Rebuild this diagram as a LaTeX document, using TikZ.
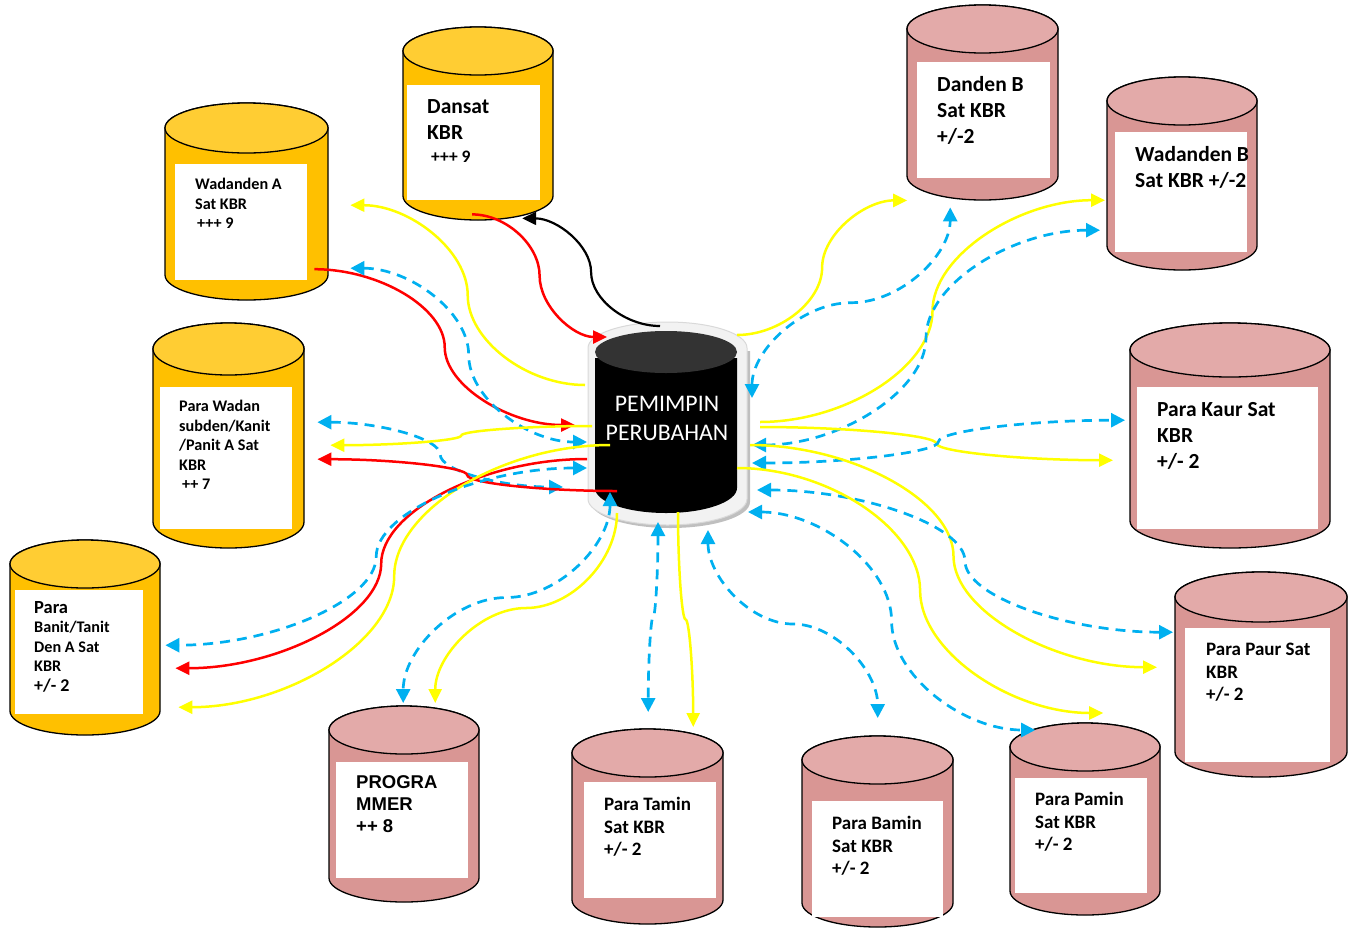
\documentclass[tikz,border=0pt]{standalone}
\usepackage{fontspec}
\setmainfont{Carlito}
\newfontfamily\arialfont{Liberation Sans}
\usetikzlibrary{positioning,arrows.meta,calc}

\definecolor{kuningbadan}{HTML}{FFC000}
\definecolor{kuningatas}{HTML}{FFCD33}
\definecolor{merahbadan}{HTML}{D99694}
\definecolor{merahatas}{HTML}{E3AAA9}
\definecolor{garisKuning}{HTML}{FFFF00}
\definecolor{garisMerah}{HTML}{FF0000}
\definecolor{garisBiru}{HTML}{00B0F0}

% cylinder: centre x, x radius, y radius, top y, bottom y, colour
\newcommand{\tabung}[6]{%
  \filldraw[tabungline, fill=#6badan] ({#1-#2},#4) -- ({#1-#2},#5)
    arc[start angle=180, end angle=360, x radius=#2pt, y radius=#3pt] -- ({#1+#2},#4)
    arc[start angle=0, end angle=180, x radius=#2pt, y radius=#3pt] -- cycle;
  \filldraw[tabungline, fill=#6atas] (#1,#4) ellipse[x radius=#2pt, y radius=#3pt];
}

\begin{document}
\begin{tikzpicture}[x=1pt, y=-1pt,
    tabungline/.style={draw=black, line width=1.3pt},
    kotak/.style={fill=white, inner sep=0pt, anchor=north west},
    teks/.style={align=left, inner sep=0pt, font=\bfseries},
    besar/.style={teks, font=\fontsize{21.5}{26}\selectfont\bfseries},
    sedang/.style={teks, font=\fontsize{19}{22.5}\selectfont\bfseries},
    kecil/.style={teks, font=\fontsize{16.2}{19.5}\selectfont\bfseries},
    % curved connectors: leave and arrive level (h) or upright (v)
    hlengkung/.style={to path={let \p1=(\tikztostart), \p2=(\tikztotarget) in
      .. controls ({0.75*\x1+0.25*\x2},\y1) and ({0.5*\x1+0.5*\x2},{0.75*\y1+0.25*\y2}) .. ({0.5*\x1+0.5*\x2},{0.5*\y1+0.5*\y2})
      .. controls ({0.5*\x1+0.5*\x2},{0.25*\y1+0.75*\y2}) and ({0.25*\x1+0.75*\x2},\y2) .. (\tikztotarget)}},
    vlengkung/.style={to path={let \p1=(\tikztostart), \p2=(\tikztotarget) in
      .. controls (\x1,{0.75*\y1+0.25*\y2}) and ({0.75*\x1+0.25*\x2},{0.5*\y1+0.5*\y2}) .. ({0.5*\x1+0.5*\x2},{0.5*\y1+0.5*\y2})
      .. controls ({0.25*\x1+0.75*\x2},{0.5*\y1+0.5*\y2}) and (\x2,{0.25*\y1+0.75*\y2}) .. (\tikztotarget)}},
    kuning/.style={draw=garisKuning, line width=2.5pt, -{Triangle[length=14pt,width=13pt]}},
    merah/.style={draw=garisMerah, line width=2.5pt, -{Triangle[length=14pt,width=13pt]}},
    hitam/.style={draw=black, line width=2.2pt, -{Triangle[length=14pt,width=13pt]}},
    biru/.style={draw=garisBiru, line width=2.7pt, dash pattern=on 10pt off 7pt,
      {Triangle[length=14pt,width=14pt]}-{Triangle[length=14pt,width=14pt]}}]
    \useasboundingbox (0,0) rectangle (1356,927);

    % yellow cylinders
    \tabung{478}{75}{24}{51}{196}{kuning}
    \node[kotak, minimum width=133pt, minimum height=115pt] (dansat) at (407,85) {};
    \node[besar, below right=14pt and 20pt of dansat.north west] (dansatT) {Dansat\\KBR\\[-3pt]{\fontsize{17.5}{19}\selectfont\hspace{4pt}+++ 9}};

    \tabung{246.5}{81.5}{25}{128}{275}{kuning}
    \node[kotak, minimum width=132pt, minimum height=116pt] (wadandenA) at (175,164) {};
    \node[kecil, below right=14pt and 20pt of wadandenA.north west] (wadandenAT) {Wadanden A\\Sat KBR\\\hspace{2pt}+++ 9};

    \tabung{228.5}{75.5}{26}{349}{522}{kuning}
    \node[kotak, minimum width=132pt, minimum height=142pt] (parawadan) at (160,387) {};
    \node[kecil, below right=13pt and 19pt of parawadan.north west] (parawadanT) {Para Wadan\\subden/Kanit\\/Panit A Sat\\KBR\\\hspace{3pt}++ 7};

    \tabung{85}{75}{24}{564}{711}{kuning}
    \node[kotak, minimum width=128pt, minimum height=124pt] (parabanit) at (15,590) {};
    \node[kecil, below right=11pt and 19pt of parabanit.north west] (parabanitT) {{\fontsize{18.5}{19.5}\selectfont Para}\\Banit/Tanit\\Den A Sat\\KBR\\{\fontsize{18}{19.5}\selectfont +/- 2}};

    % pink cylinders
    \tabung{404}{75}{24}{730}{878}{merah}
    \node[kotak, minimum width=132pt, minimum height=116pt] (programmer) at (336,762) {};
    \node[teks, font=\fontsize{18.5}{22}\selectfont\arialfont\bfseries, below right=13pt and 20pt of programmer.north west] (programmerT) {PROGRA\\MMER\\++ 8};

    \tabung{647.5}{75.5}{24}{753}{900}{merah}
    \node[kotak, minimum width=132pt, minimum height=116pt] (paratamin) at (584,782) {};
    \node[sedang, below right=15pt and 20pt of paratamin.north west] (paratаminT) {Para Tamin\\Sat KBR\\+/- 2};

    \tabung{877.5}{75.5}{24}{760}{903}{merah}
    \node[kotak, minimum width=131pt, minimum height=116pt] (parabamin) at (812,801) {};
    \node[sedang, below right=15pt and 20pt of parabamin.north west] (parabaminT) {Para Bamin\\Sat KBR\\+/- 2};

    \tabung{1085}{75}{24}{747}{891}{merah}
    \node[kotak, minimum width=132pt, minimum height=115pt] (parapamin) at (1015,778) {};
    \node[sedang, below right=14pt and 20pt of parapamin.north west] (parapaminT) {Para Pamin\\Sat KBR\\+/- 2};

    \tabung{1261}{86}{25}{597}{752}{merah}
    \node[kotak, minimum width=145pt, minimum height=134pt] (parapaur) at (1185,628) {};
    \node[sedang, below right=15pt and 21pt of parapaur.north west] (parapaurT) {Para Paur Sat\\KBR\\+/- 2};

    \tabung{1230}{100}{27}{350}{521}{merah}
    \node[kotak, minimum width=181pt, minimum height=142pt] (parakaur) at (1137,387) {};
    \node[besar, below right=15pt and 20pt of parakaur.north west] (parakaurT) {Para Kaur Sat\\KBR\\+/- 2};

    \tabung{1182}{75}{24}{101}{246}{merah}
    \node[kotak, minimum width=132pt, minimum height=120pt] (wadandenB) at (1115,132) {};
    \node[besar, below right=14pt and 20pt of wadandenB.north west] (wadandenBT) {Wadanden B\\Sat KBR +/-2};

    \tabung{982.5}{75.5}{24}{29}{176}{merah}
    \node[kotak, minimum width=133pt, minimum height=116pt] (dandenB) at (917,62) {};
    \node[besar, below right=14pt and 20pt of dandenB.north west] (dandenBT) {Danden B\\Sat KBR\\+/-2};

    % the leader in the middle
    \fill[black!25] (591,351) -- (591,502) arc[start angle=180, end angle=360, x radius=79.5pt, y radius=26pt] -- (750,351) -- cycle;
    \filldraw[fill=black!5, draw=black!15, line width=1pt] (588,348) -- (588,499)
      arc[start angle=180, end angle=360, x radius=79.5pt, y radius=26pt] -- (747,348)
      arc[start angle=0, end angle=180, x radius=79.5pt, y radius=26pt] -- cycle;
    \fill[black] (595,358) -- (595,488) arc[start angle=180, end angle=360, x radius=71pt, y radius=25pt] -- (737,358) -- cycle;
    \fill[black!80] (666,352) ellipse[x radius=71pt, y radius=21pt];
    \node[text=white, align=center, font=\fontsize{23.8}{29}\selectfont, minimum width=150pt, minimum height=190pt] (pem) at (667,418) {PEMIMPIN\\PERUBAHAN};

    % upper left
    \draw[hitam, hlengkung] ([shift={(-7,-92)}]pem.center) to ([shift={(48.5,18)}]dansat.south);
    \draw[merah, hlengkung] ([shift={(-1.5,14)}]dansat.south) to ([shift={(-60,-81)}]pem.center);
    \draw[merah, hlengkung] ([shift={(7,47)}]wadandenA.east) to ([shift={(-92,7)}]pem.center);
    \draw[biru, hlengkung] ([shift={(43,46)}]wadandenA.east) to ([shift={(-80,24)}]pem.center);
    \draw[kuning, hlengkung] ([shift={(-82,-33)}]pem.center) to ([shift={(43,-17)}]wadandenA.east);

    % left
    \draw[biru, hlengkung] ([shift={(25,-36)}]parawadan.east) to ([shift={(-104,69)}]pem.center);
    \draw[kuning, hlengkung] ([shift={(-75,8)}]pem.center) to ([shift={(38,-13)}]parawadan.east);
    \draw[merah, hlengkung] ([shift={(-50,73)}]pem.center) to ([shift={(25,1)}]parawadan.east);
    \draw[merah, hlengkung] ([shift={(-80,41)}]pem.center) to ([shift={(32,16)}]parabanit.east);
    \draw[kuning, hlengkung] ([shift={(-57,27)}]pem.center) to ([shift={(35,55)}]parabanit.east);
    \draw[biru, hlengkung] ([shift={(-80,50)}]pem.center) to ([shift={(22,-7)}]parabanit.east);

    % bottom
    \draw[biru, vlengkung] ([shift={(-57,74)}]pem.center) to ([shift={(1,-59)}]programmer.north);
    \draw[kuning, vlengkung] ([shift={(-50,95)}]pem.center) to ([shift={(33,-59)}]programmer.north);
    \draw[biru, vlengkung] ([shift={(-9,104)}]pem.center) to ([shift={(-2,-70)}]paratamin.north);
    \draw[kuning, vlengkung] ([shift={(11,94)}]pem.center) to ([shift={(43,-55)}]paratamin.north);
    \draw[biru, vlengkung] ([shift={(41,112)}]pem.center) to ([shift={(0,-83)}]parabamin.north);

    % right
    \draw[kuning, hlengkung] ([shift={(70,-83)}]pem.center) to ([shift={(-76.5,22)}]dandenB.south);
    \draw[biru, vlengkung] ([shift={(85,-20)}]pem.center) to ([shift={(-33.5,29)}]dandenB.south);
    \draw[kuning, hlengkung] ([shift={(93,4)}]pem.center) to ([shift={(-10,8)}]wadandenB.west);
    \draw[biru, hlengkung] ([shift={(85,27)}]pem.center) to ([shift={(-15,38)}]wadandenB.west);
    \draw[kuning, hlengkung] ([shift={(93,9)}]pem.center) to ([shift={(-24,2)}]parakaur.west);
    \draw[biru, hlengkung] ([shift={(85,45)}]pem.center) to ([shift={(-12,-38)}]parakaur.west);
    \draw[kuning, hlengkung] ([shift={(83,27)}]pem.center) to ([shift={(-28,-28)}]parapaur.west);
    \draw[biru, hlengkung] ([shift={(90,72)}]pem.center) to ([shift={(-12,-63)}]parapaur.west);
    \draw[kuning, hlengkung] ([shift={(70,50)}]pem.center) to ([shift={(22,-65)}]parapamin.north);
    \draw[biru, hlengkung] ([shift={(81,94)}]pem.center) to ([shift={(-46,-48)}]parapamin.north);
\end{tikzpicture}
\end{document}
